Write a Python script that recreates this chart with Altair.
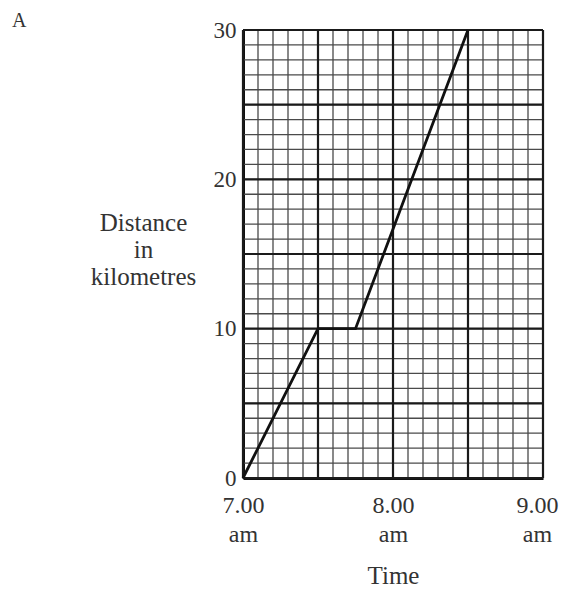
import altair as alt
import numpy as np
import pandas as pd

# Journey data (time in hours, distance in km)
times = [7.0, 7.5, 7.75, 8.5]
distances = [0, 10, 10, 30]

x_ticks = [7.0, 8.0, 9.0]
y_ticks = [0, 10, 20, 30]

x_major = [7.0, 7.5, 8.0, 8.5, 9.0]
y_major = [0, 5, 10, 15, 20, 25, 30]
x_minor = [round(v, 2) for v in np.arange(7.0, 9.001, 0.1)]
y_minor = list(range(0, 31))

FONT = "Liberation Serif"
W, H = 300, 448

line_df = pd.DataFrame({"t": times, "d": distances})

xs = alt.Scale(domain=[7, 9], nice=False, zero=False)
ys = alt.Scale(domain=[0, 30], nice=False)

x_axis = alt.Axis(
    values=x_ticks, title="Time", grid=False, ticks=False,
    labelExpr="[format(datum.value, '.2f'), 'am']",
    labelFont=FONT, labelFontSize=24, labelColor="#333", labelLineHeight=29,
    labelPadding=15, labelBaseline="top",
    labelOffset={"condition": {"test": "datum.value >= 9", "value": -6}, "value": 0},
    titleFont=FONT, titleFontSize=25, titleFontWeight="normal", titleColor="#333",
    titleBaseline="alphabetic", titleY=105,
    domainColor="#111", domainWidth=3, labelFlush=False)
y_axis = alt.Axis(
    values=y_ticks, grid=False, ticks=False,
    title=["Distance", "in", "kilometres"], titleAngle=0,
    titleAlign="center", titleBaseline="alphabetic", titleX=-100, titleY=200,
    titleLineHeight=27,
    labelFont=FONT, labelFontSize=23, labelColor="#333", labelPadding=7,
    titleFont=FONT, titleFontSize=25, titleFontWeight="normal", titleColor="#333",
    domainColor="#111", domainWidth=3, labelFlush=False)

X = alt.X("t:Q", scale=xs, axis=x_axis)
Y = alt.Y("d:Q", scale=ys, axis=y_axis)

minor_v = alt.Chart(pd.DataFrame({"t": x_minor})).mark_rule(color="#4a4a4a", strokeWidth=1.3).encode(x=X)
minor_h = alt.Chart(pd.DataFrame({"d": y_minor})).mark_rule(color="#4a4a4a", strokeWidth=1.3).encode(y=Y)
major_v = alt.Chart(pd.DataFrame({"t": x_major})).mark_rule(color="#1a1a1a", strokeWidth=2.2).encode(x=X)
major_h = alt.Chart(pd.DataFrame({"d": y_major})).mark_rule(color="#1a1a1a", strokeWidth=2.2).encode(y=Y)

line = alt.Chart(line_df).mark_line(color="#111", strokeWidth=2.8).encode(x=X, y=Y)

letter = alt.Chart(pd.DataFrame({"s": ["A"]})).mark_text(
    font=FONT, fontSize=20, color="#333", align="left", baseline="middle").encode(
    text="s:N", x=alt.value(-231), y=alt.value(-9))

chart = alt.layer(minor_v, minor_h, major_v, major_h, line, letter).properties(
    width=W, height=H,
    autosize=alt.AutoSizeParams(type="none"),
    padding={"left": 235, "top": 22, "right": 16, "bottom": 112},
).configure_view(stroke=None).configure(background="white")

chart.save("out.html", embed_options={"renderer": "svg", "actions": False})
